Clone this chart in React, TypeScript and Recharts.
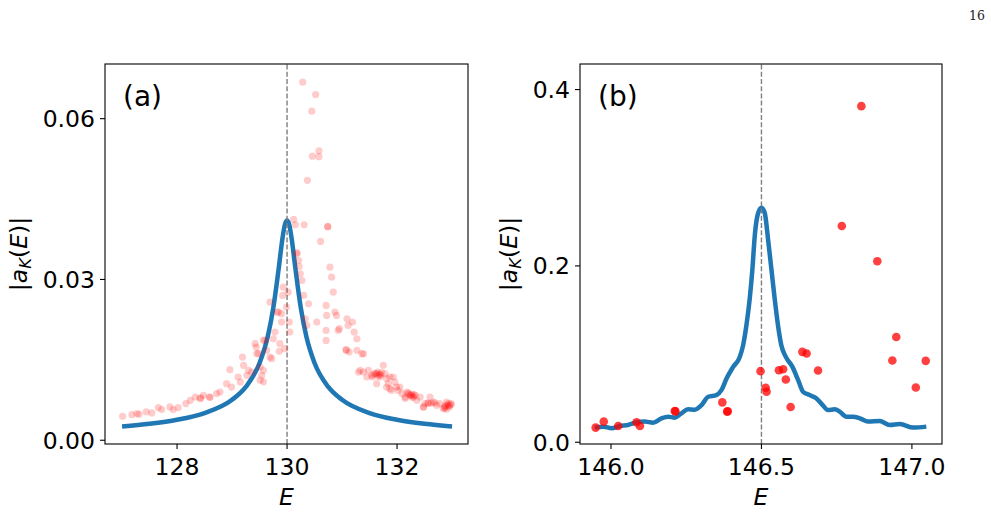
import React from 'react';
import { ComposedChart, Line, Scatter, XAxis, YAxis, ReferenceLine } from 'recharts';

type Pt = [number, number];

// (a) model amplitude around the resonance at E = 130
const curveA: Pt[] = [
  [127.0, 0.00255], [127.5, 0.00306], [128.0, 0.00382], [128.5, 0.00508], [129.0, 0.00755],
  [129.25, 0.00995], [129.5, 0.0144], [129.65, 0.0194], [129.75, 0.0247], [129.85, 0.0322],
  [129.92, 0.0379], [129.96, 0.0402], [130.0, 0.041], [130.04, 0.0402], [130.08, 0.0379],
  [130.15, 0.0322], [130.25, 0.0247], [130.35, 0.0194], [130.5, 0.0144], [130.75, 0.00995],
  [131.0, 0.00755], [131.5, 0.00508], [132.0, 0.00382], [132.5, 0.00306], [133.0, 0.00255],
];

// (a) sampled amplitudes, low side of the resonance
const samplesALow: Pt[] = [
  [127.01, 0.00447], [127.18, 0.00478], [127.27, 0.00497], [127.31, 0.00484], [127.44, 0.00528],
  [127.54, 0.00509], [127.66, 0.00609], [127.72, 0.00572], [127.87, 0.00621], [127.93, 0.00572],
  [128.02, 0.00609], [128.16, 0.00684], [128.24, 0.00745], [128.33, 0.00807], [128.42, 0.00777],
  [128.43, 0.0079], [128.48, 0.00838], [128.59, 0.00807], [128.6, 0.008], [128.72, 0.0087],
  [128.78, 0.009], [128.9, 0.01056], [128.99, 0.00993], [128.96, 0.01317], [129.11, 0.0118],
  [129.15, 0.01086], [129.21, 0.01397], [129.19, 0.01552], [129.27, 0.01211], [129.3, 0.01304],
  [129.36, 0.0127], [129.42, 0.01801], [129.44, 0.01739], [129.45, 0.01615], [129.48, 0.0162],
  [129.51, 0.01366], [129.51, 0.0112], [129.54, 0.01211], [129.57, 0.01304], [129.57, 0.0109],
  [129.57, 0.0187], [129.6, 0.01863], [129.63, 0.01677], [129.69, 0.01552], [129.72, 0.01522],
  [129.75, 0.01894], [129.78, 0.02018], [129.69, 0.02577], [129.82, 0.0239], [129.84, 0.02391],
  [129.86, 0.0166], [129.87, 0.01801], [129.9, 0.02361], [129.9, 0.02204], [129.92, 0.02702],
  [129.93, 0.02856], [129.96, 0.01708], [129.99, 0.02484], [130.02, 0.02763], [130.04, 0.02204],
  [130.05, 0.02018],
];

// (a) sampled amplitudes, high side of the resonance
const samplesAHigh: Pt[] = [
  [130.285, 0.0668], [130.52, 0.0645], [130.45, 0.0614], [130.58, 0.054], [130.46, 0.053],
  [130.58, 0.0529], [130.37, 0.0485], [130.12, 0.0412], [130.15, 0.0402], [130.31, 0.0402],
  [130.74, 0.0399], [130.74, 0.0398], [130.61, 0.0371], [130.18, 0.035],
  [130.18, 0.03478], [130.21, 0.03354], [130.22, 0.03242], [130.24, 0.03106], [130.27, 0.02981],
  [130.3, 0.02702], [130.33, 0.02267], [130.36, 0.02143], [130.39, 0.02547], [130.54, 0.02204],
  [130.71, 0.02515], [130.72, 0.02329], [130.71, 0.0205], [130.71, 0.01863], [130.78, 0.03229],
  [130.81, 0.03043], [130.84, 0.02763], [130.87, 0.02391], [130.9, 0.02329], [130.93, 0.0205],
  [130.95, 0.02081], [131.09, 0.02267], [131.11, 0.02143], [131.19, 0.02204], [131.22, 0.02018],
  [131.27, 0.01894], [131.07, 0.0169], [131.08, 0.0168], [131.13, 0.01646], [131.27, 0.01677],
  [131.36, 0.01615], [131.39, 0.0161], [131.3, 0.0127], [131.33, 0.01304], [131.39, 0.01273],
  [131.45, 0.0118], [131.48, 0.01304], [131.54, 0.01211], [131.55, 0.0118], [131.58, 0.0123],
  [131.6, 0.0125], [131.63, 0.01242], [131.65, 0.0127], [131.66, 0.012], [131.68, 0.0123],
  [131.69, 0.0118], [131.7, 0.0122], [131.72, 0.0126], [131.63, 0.01056], [131.75, 0.01397],
  [131.78, 0.01242], [131.81, 0.01149], [131.81, 0.0099], [131.84, 0.01056], [131.87, 0.00963],
  [131.87, 0.0118], [131.9, 0.0093], [131.93, 0.0118], [131.96, 0.01086], [131.99, 0.00993],
  [132.02, 0.00932], [132.05, 0.00993], [132.09, 0.0087], [132.15, 0.00807], [132.15, 0.0078],
  [132.18, 0.009], [132.2, 0.0088], [132.22, 0.0086], [132.24, 0.00838], [132.26, 0.0083],
  [132.27, 0.00857], [132.28, 0.008], [132.3, 0.00807], [132.31, 0.0085], [132.33, 0.00838],
  [132.36, 0.00745], [132.42, 0.00807], [132.48, 0.00621], [132.48, 0.0062], [132.51, 0.00684],
  [132.56, 0.007], [132.57, 0.00684], [132.6, 0.00807], [132.62, 0.0069], [132.66, 0.00714],
  [132.69, 0.00696], [132.72, 0.00652], [132.78, 0.00684], [132.84, 0.0059], [132.86, 0.006],
  [132.87, 0.00621], [132.88, 0.0064], [132.9, 0.00714], [132.9, 0.0058], [132.92, 0.0068],
  [132.93, 0.00652], [132.95, 0.0062], [132.96, 0.00652], [132.97, 0.0069], [132.99, 0.00671],
];

// (b) model amplitude around E = 146.5
const curveB: Pt[] = [
  [145.946, 0.0166], [145.974, 0.0177], [146.002, 0.0158], [146.029, 0.0184], [146.057, 0.0196],
  [146.085, 0.0226], [146.112, 0.0234], [146.14, 0.0222], [146.168, 0.0271], [146.19, 0.029],
  [146.212, 0.0279], [146.234, 0.0328], [146.256, 0.0373], [146.278, 0.0369], [146.301, 0.0421],
  [146.323, 0.0516], [146.35, 0.0535], [146.367, 0.0591], [146.384, 0.0723], [146.406, 0.0855],
  [146.428, 0.0968], [146.439, 0.1099], [146.45, 0.1325], [146.461, 0.1627], [146.47, 0.1966],
  [146.478, 0.235], [146.489, 0.26], [146.5, 0.266], [146.511, 0.26], [146.522, 0.23],
  [146.533, 0.1966], [146.544, 0.1627], [146.555, 0.1325], [146.566, 0.1099], [146.581, 0.0968],
  [146.603, 0.0855], [146.622, 0.0704], [146.638, 0.0573], [146.66, 0.0535], [146.683, 0.0497],
  [146.705, 0.0415], [146.721, 0.0365], [146.744, 0.0373], [146.76, 0.0347], [146.782, 0.029],
  [146.804, 0.029], [146.827, 0.0271], [146.854, 0.0234], [146.893, 0.0241], [146.926, 0.0196],
  [146.96, 0.0207], [147.004, 0.0166], [147.048, 0.0177],
];

// (b) sampled amplitudes
const samplesB: Pt[] = [
  [145.949, 0.0166], [145.976, 0.0234], [146.024, 0.0185], [146.085, 0.0226], [146.096, 0.0185],
  [146.212, 0.0354], [146.214, 0.035], [146.37, 0.0452], [146.386, 0.0347], [146.388, 0.0352],
  [146.497, 0.0806], [146.514, 0.0618], [146.517, 0.0573], [146.558, 0.0817], [146.572, 0.0828],
  [146.581, 0.0712], [146.597, 0.0399], [146.636, 0.1025], [146.65, 0.1006], [146.688, 0.0814],
  [146.767, 0.2452], [146.832, 0.3812], [146.885, 0.2053], [146.935, 0.0927], [146.948, 0.1194],
  [147.013, 0.0621], [147.046, 0.0923],
];

const ticksAX = [128, 130, 132];
const ticksAY = [0, 0.03, 0.06];
const ticksBX = [146.0, 146.5, 147.0];
const ticksBY = [0, 0.2, 0.4];

const toRows = (arr: Pt[]) => arr.map(([E, v]) => ({ E, v }));

const FONT = 'DejaVu Sans, sans-serif';
const FS = 23.5;
const tickStyle = { fontSize: FS, fill: '#000', fontFamily: FONT };

interface PanelProps {
  left: number;
  width: number;
  yw: number;
  right: number;
  xDomain: [number, number];
  yDomain: [number, number];
  xTicks: number[];
  yTicks: number[];
  xDigits: number;
  yDigits: number;
  refX: number;
  curve: Pt[];
  points: Pt[];
  dotR: number;
  dotOpacity: number;
}

const TOP = 64;
const PLOT_H = 380;

const Panel: React.FC<PanelProps> = (p) => {
  const dot = (props: any) => (
    <circle cx={props.cx} cy={props.cy} r={p.dotR} fill="#ff0000" fillOpacity={p.dotOpacity} />
  );
  const plotW = p.width - p.yw - p.right;
  return (
    <div style={{ position: 'absolute', left: p.left, top: 0, width: p.width, height: 512 }}>
      <ComposedChart width={p.width} height={512} margin={{ top: TOP, right: p.right, bottom: 0, left: 0 }}>
        <XAxis
          dataKey="E"
          type="number"
          domain={p.xDomain}
          ticks={p.xTicks}
          interval={0}
          allowDataOverflow
          tickFormatter={(t: number) => t.toFixed(p.xDigits)}
          height={512 - TOP - PLOT_H}
          tick={tickStyle}
          tickSize={5}
          tickMargin={9}
          axisLine={false}
          tickLine={{ stroke: '#000', strokeWidth: 1.1 }}
        />
        <YAxis
          dataKey="v"
          type="number"
          domain={p.yDomain}
          ticks={p.yTicks}
          interval={0}
          allowDataOverflow
          tickFormatter={(t: number) => t.toFixed(p.yDigits)}
          width={p.yw}
          tick={tickStyle}
          tickSize={5}
          tickMargin={5}
          axisLine={false}
          tickLine={{ stroke: '#000', strokeWidth: 1.1 }}
        />
        <Scatter data={toRows(p.points)} shape={dot} isAnimationActive={false} />
        <Line
          data={toRows(p.curve)}
          dataKey="v"
          type="monotone"
          stroke="#1f77b4"
          strokeWidth={4.5}
          dot={false}
          activeDot={false}
          isAnimationActive={false}
        />
        <ReferenceLine x={p.refX} stroke="#7f7f7f" strokeWidth={1.4} strokeDasharray="5 2.2" />
      </ComposedChart>
      {/* axes frame */}
      <svg width={p.width} height={512} style={{ position: 'absolute', left: 0, top: 0, pointerEvents: 'none' }}>
        <rect x={p.yw} y={TOP} width={plotW} height={PLOT_H} fill="none" stroke="#000" strokeWidth={1.1} />
      </svg>
    </div>
  );
};

// |a_K(E)| as a rotated axis title
const AmpLabel: React.FC<{ x: number; y: number }> = ({ x, y }) => (
  <text x={x} y={y} transform={`rotate(-90 ${x} ${y})`} textAnchor="middle" fontFamily={FONT} fontSize={FS} fill="#000">
    <tspan>|</tspan>
    <tspan fontStyle="italic">a</tspan>
    <tspan fontStyle="italic" fontSize={16.5} dy={4}>K</tspan>
    <tspan dy={-4}>(</tspan>
    <tspan fontStyle="italic">E</tspan>
    <tspan>)|</tspan>
  </text>
);

export default function App() {
  return (
    <div style={{ position: 'absolute', left: 0, top: 0, width: 991, height: 512, background: '#fff', overflow: 'hidden' }}>
      <Panel
        left={0}
        width={480}
        yw={105}
        right={12}
        xDomain={[126.69, 133.29]}
        yDomain={[-0.0007, 0.0702]}
        xTicks={ticksAX}
        yTicks={ticksAY}
        xDigits={0}
        yDigits={2}
        refX={130}
        curve={curveA}
        points={[...samplesALow, ...samplesAHigh]}
        dotR={3.6}
        dotOpacity={0.2}
      />
      <Panel
        left={480}
        width={511}
        yw={100}
        right={49}
        xDomain={[145.897, 147.1]}
        yDomain={[-0.002, 0.429]}
        xTicks={ticksBX}
        yTicks={ticksBY}
        xDigits={1}
        yDigits={1}
        refX={146.5}
        curve={curveB}
        points={samplesB}
        dotR={4.3}
        dotOpacity={0.75}
      />
      <svg width={991} height={512} style={{ position: 'absolute', left: 0, top: 0, pointerEvents: 'none' }}>
        <text x={985} y={20} textAnchor="end" fontFamily="DejaVu Serif, serif" fontSize={12.5} fill="#222">16</text>
        <text x={123} y={106} fontFamily={FONT} fontSize={28} fill="#000">(a)</text>
        <text x={598} y={106} fontFamily={FONT} fontSize={28} fill="#000">(b)</text>
        <text x={286.5} y={505} textAnchor="middle" fontFamily={FONT} fontSize={FS} fontStyle="italic" fill="#000">E</text>
        <text x={761} y={505} textAnchor="middle" fontFamily={FONT} fontSize={FS} fontStyle="italic" fill="#000">E</text>
        <AmpLabel x={27} y={254} />
        <AmpLabel x={517} y={254} />
      </svg>
    </div>
  );
}
